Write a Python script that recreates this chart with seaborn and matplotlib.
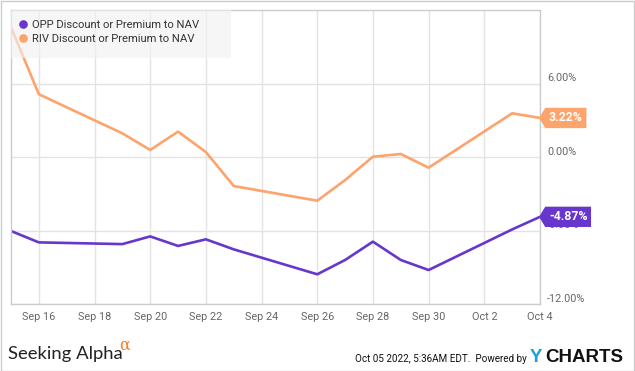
import numpy as np
import pandas as pd
import matplotlib
matplotlib.use("Agg")
import matplotlib.pyplot as plt
import matplotlib.dates as mdates
from matplotlib.path import Path
from matplotlib.lines import Line2D
from matplotlib.patches import Rectangle
from matplotlib.transforms import ScaledTranslation
import seaborn as sns

# ---- data ----
dates = ["2022-09-15", "2022-09-16", "2022-09-19", "2022-09-20", "2022-09-21",
         "2022-09-22", "2022-09-23", "2022-09-26", "2022-09-27", "2022-09-28",
         "2022-09-29", "2022-09-30", "2022-10-03", "2022-10-04"]
opp_values = [-6.03, -6.96, -7.10, -6.47, -7.25, -6.71, -7.53, -9.57, -8.40,
              -6.90, -8.40, -9.22, -5.90, -4.87]
riv_values = [10.64, 5.16, 1.96, 0.60, 2.10, 0.43, -2.35, -3.55, -1.86,
              0.05, 0.27, -0.85, 3.60, 3.22]
series_names = ["OPP Discount or Premium to NAV", "RIV Discount or Premium to NAV"]
series_colors = ["#6736cc", "#fda36c"]
y_ticks = [-12, -6, 0, 6]
x_tick_dates = pd.date_range("2022-09-16", "2022-10-04", freq="2D")

df = pd.DataFrame({
    "date": pd.to_datetime(dates * 2),
    "value": opp_values + riv_values,
    "series": [series_names[0]] * len(dates) + [series_names[1]] * len(dates),
})

sns.set_theme(style="white")
plt.rcParams["font.family"] = ["Roboto", "DejaVu Sans"]

W, H = 635, 371
AX_L, AX_R, AX_T, AX_B = 11, 540, 10, 304
fig = plt.figure(figsize=(W / 100, H / 100), dpi=100)
ax = fig.add_axes([AX_L / W, (H - AX_B) / H, (AX_R - AX_L) / W, (AX_B - AX_T) / H])


def axx(px):
    return (px - AX_L) / (AX_R - AX_L)


def axy(py):
    return (AX_B - py) / (AX_B - AX_T)


sns.lineplot(data=df, x="date", y="value", hue="series", palette=series_colors,
             linewidth=1.9, ax=ax, legend=False)

ax.set_xlim(pd.Timestamp("2022-09-15"), pd.Timestamp("2022-10-04"))
ax.set_ylim(-12, 12.05)
ax.set_xlabel("")
ax.set_ylabel("")

# grid
ax.set_xticks(x_tick_dates)
ax.xaxis.set_major_formatter(mdates.DateFormatter("%b %-d"))
ax.set_yticks(y_ticks)
ax.set_yticklabels([f"{v:.2f}%" for v in y_ticks])
ax.grid(True, color="#e3e3e3", linewidth=1)
ax.set_axisbelow(True)
for s in ax.spines.values():
    s.set_color("#cccccc")
    s.set_linewidth(1)

ax.yaxis.tick_right()
ax.tick_params(axis="y", length=0, pad=5, labelsize=7.8, labelcolor="#666666")
ax.tick_params(axis="x", length=0, pad=6, labelsize=7.8, labelcolor="#666666")
off = ScaledTranslation(0, 6.5 / 100, fig.dpi_scale_trans)
for lab in ax.get_yticklabels():
    lab.set_transform(lab.get_transform() + off)

# legend background (semi-transparent, like the original)
ax.add_patch(Rectangle((0, axy(58)), axx(231), 1 - axy(58), transform=ax.transAxes,
                       facecolor="#f2f2f2", edgecolor="none", alpha=0.62,
                       zorder=4, clip_on=False))
handles = [Line2D([], [], marker="o", linestyle="none", markersize=5.2,
                  markerfacecolor=c, markeredgecolor=c) for c in series_colors]
leg = ax.legend(handles, series_names, loc="upper left",
                bbox_to_anchor=(axx(17.4), axy(20.0)),
                borderaxespad=0, borderpad=0, frameon=False, fontsize=8.1,
                handletextpad=0.3, labelspacing=0.36, handlelength=1.0)
leg.set_zorder(6)
for t in leg.get_texts():
    t.set_color("#333333")


# value tags
def tag_box(x0, y0, width, height, mutation_size):
    pad = 0.3 * mutation_size
    x0 -= pad
    y0 -= pad
    width += 2 * pad
    height += 2 * pad
    a = height * 0.3
    verts = [(x0 - a, y0 + height / 2), (x0, y0), (x0 + width, y0),
             (x0 + width, y0 + height), (x0, y0 + height),
             (x0 - a, y0 + height / 2)]
    return Path(verts, closed=True)


last_date = pd.Timestamp(dates[-1])
for vals, c in zip([opp_values, riv_values], series_colors):
    v = vals[-1]
    ax.annotate(f"{v:.2f}%", xy=(last_date, v), xytext=(6.4, 0),
                textcoords="offset points", ha="left", va="center",
                color="white", fontsize=8.8, fontweight="bold",
                annotation_clip=False, zorder=10,
                bbox=dict(boxstyle=tag_box, fc=c, ec="none"))

# footer
fig.text(8 / W, 1 - 359 / H, "Seeking Alpha", fontsize=13.3, color="#222222",
         family=["Lato", "DejaVu Sans"], ha="left", va="baseline")
fig.text(119 / W, 1 - 349.5 / H, "α", fontsize=11.5, color="#f57c1f",
         family=["DejaVu Serif"], ha="left", va="baseline")
fig.text(527 / W, 1 - 362 / H, "Oct 05 2022, 5:36AM EDT.  Powered by",
         fontsize=7.1, color="#111111", family=["Roboto", "DejaVu Sans"],
         ha="right", va="baseline")
fig.text(530 / W, 1 - 362 / H, "Y", fontsize=13.5, color="#1a9fe0",
         fontweight="bold", family=["Liberation Sans"], ha="left", va="baseline")
fig.text(545 / W, 1 - 362 / H, "CHARTS", fontsize=13.5, color="#111111",
         fontweight="bold", family=["Liberation Sans"], ha="left", va="baseline")

fig.patches.append(Rectangle((0.5 / W, 0.5 / H), 1 - 1.5 / W, 1 - 1.5 / H,
                             transform=fig.transFigure, fill=False,
                             edgecolor="#cccccc", linewidth=1))

fig.savefig("out.png", dpi=100)
